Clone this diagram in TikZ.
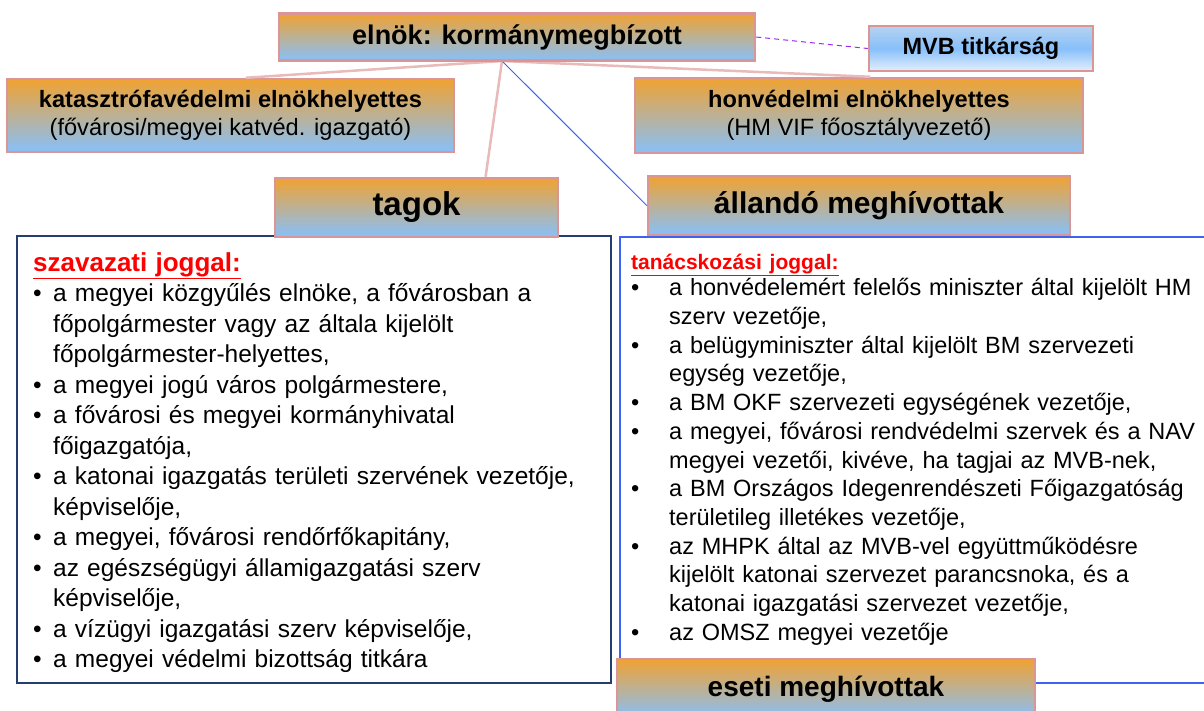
\documentclass[tikz,border=0pt]{standalone}
\usepackage{fontspec}
\setmainfont{Liberation Sans}
\usetikzlibrary{positioning}

\definecolor{narancs}{RGB}{240,162,50}
\definecolor{egkek}{RGB}{135,192,250}
\definecolor{mvbfent}{RGB}{182,210,240}
\definecolor{mvblent}{RGB}{228,238,252}
\definecolor{keret}{RGB}{217,150,148}
\definecolor{vonal}{RGB}{232,186,185}
\definecolor{sotetkek}{RGB}{38,62,110}
\definecolor{elenkkek}{RGB}{60,100,240}
\definecolor{lila}{RGB}{160,40,240}

% felsorolas pont fuggo behuzassal
\newcommand{\pont}[2]{\par\hangindent=#1\hangafter=1\noindent\makebox[#1][l]{\textbullet}#2}

\tikzset{
  fejlec/.style={draw=keret, line width=2.5pt, top color=narancs, bottom color=egkek,
    align=center, inner sep=0pt},
  kapcs/.style={vonal, line width=2.5pt},
  lista/.style={align=left, inner sep=0pt, anchor=north west}
}

\begin{document}
\begin{tikzpicture}[x=1pt,y=-1pt]
    \useasboundingbox (0,0) rectangle (1204,710);

    % listak keretei
    \draw[sotetkek, line width=1.3pt] (17,236) rectangle (611,683);
    \draw[elenkkek, line width=1.3pt] (620,237) rectangle (1230,683);

    \node[lista, text width=575pt, font=\fontsize{24.5}{30.5}\selectfont] (szav) at (33,252) {%
      {\fontsize{26}{30}\selectfont\bfseries\color{red}\underline{szavazati joggal:}\par}
      \pont{20pt}{a megyei közgyűlés elnöke, a fővárosban a\newline főpolgármester vagy az általa kijelölt\newline főpolgármester-helyettes,}
      \pont{20pt}{a megyei jogú város polgármestere,}
      \pont{20pt}{a fővárosi és megyei kormányhivatal\newline főigazgatója,}
      \pont{20pt}{a katonai igazgatás területi szervének vezetője,\newline képviselője,}
      \pont{20pt}{a megyei, fővárosi rendőrfőkapitány,}
      \pont{20pt}{az egészségügyi államigazgatási szerv\newline képviselője,}
      \pont{20pt}{a vízügyi igazgatási szerv képviselője,}
      \pont{20pt}{a megyei védelmi bizottság titkára}};

    \node[lista, text width=570pt, font=\fontsize{23.5}{28.7}\selectfont] (tanacs) at (631,254) {%
      {\fontsize{21}{24}\selectfont\bfseries\color{red}\underline{tanácskozási joggal:}\par}
      \vspace{-2.5pt}
      \pont{38pt}{a honvédelemért felelős miniszter által kijelölt HM\newline szerv vezetője,}
      \pont{38pt}{a belügyminiszter által kijelölt BM szervezeti\newline egység vezetője,}
      \pont{38pt}{a BM OKF szervezeti egységének vezetője,}
      \pont{38pt}{a megyei, fővárosi rendvédelmi szervek és a NAV\newline megyei vezetői, kivéve, ha tagjai az MVB-nek,}
      \pont{38pt}{a BM Országos Idegenrendészeti Főigazgatóság\newline területileg illetékes vezetője,}
      \pont{38pt}{az MHPK által az MVB-vel együttműködésre\newline kijelölt katonai szervezet parancsnoka, és a\newline katonai igazgatási szervezet vezetője,}
      \pont{38pt}{az OMSZ megyei vezetője}};

    % kapcsolatok
    \coordinate (kozep) at (502,61);
    \node[fejlec, minimum width=447pt, minimum height=73pt, font=\fontsize{23.6}{28}\selectfont] (katv) at (230.5,115.5)
      {\textbf{katasztrófavédelmi elnökhelyettes}\\(fővárosi/megyei katvéd. igazgató)};
    \node[fejlec, minimum width=448pt, minimum height=75pt, font=\fontsize{23.6}{28}\selectfont] (honv) at (859,115.5)
      {\textbf{honvédelmi elnökhelyettes}\\(HM VIF főosztályvezető)};
    \node[fejlec, minimum width=283pt, minimum height=59pt, font=\fontsize{33}{36}\selectfont\bfseries] (tagok) at (416.5,207.5) {tagok};
    \node[fejlec, minimum width=422pt, minimum height=59pt, font=\fontsize{30}{34}\selectfont\bfseries] (allando) at (859,205.5) {állandó meghívottak};
    \node[fejlec, minimum width=418pt, minimum height=60pt, font=\fontsize{28}{32}\selectfont\bfseries] (eseti) at (826,689) {eseti meghívottak};

    \draw[kapcs] (kozep) -- (katv.68);
    \draw[kapcs] (kozep) -- (honv.74);
    \draw[kapcs] (kozep) -- (tagok.24);
    \draw[elenkkek, line width=1pt] (kozep) -- (allando.west);

    \node[fejlec, minimum width=476pt, minimum height=47pt, font=\fontsize{27}{30}\selectfont\bfseries] (elnok) at (517,37) {elnök: kormánymegbízott};
    \node[fejlec, top color=mvbfent, bottom color=mvblent, middle color=egkek, minimum width=224pt, minimum height=45pt,
      font=\fontsize{23.5}{26}\selectfont\bfseries] (mvb) at (981,48.5) {MVB titkárság};
    \draw[lila, line width=1pt, dash pattern=on 5pt off 4pt] (elnok.east) -- (mvb.west);
\end{tikzpicture}
\end{document}
